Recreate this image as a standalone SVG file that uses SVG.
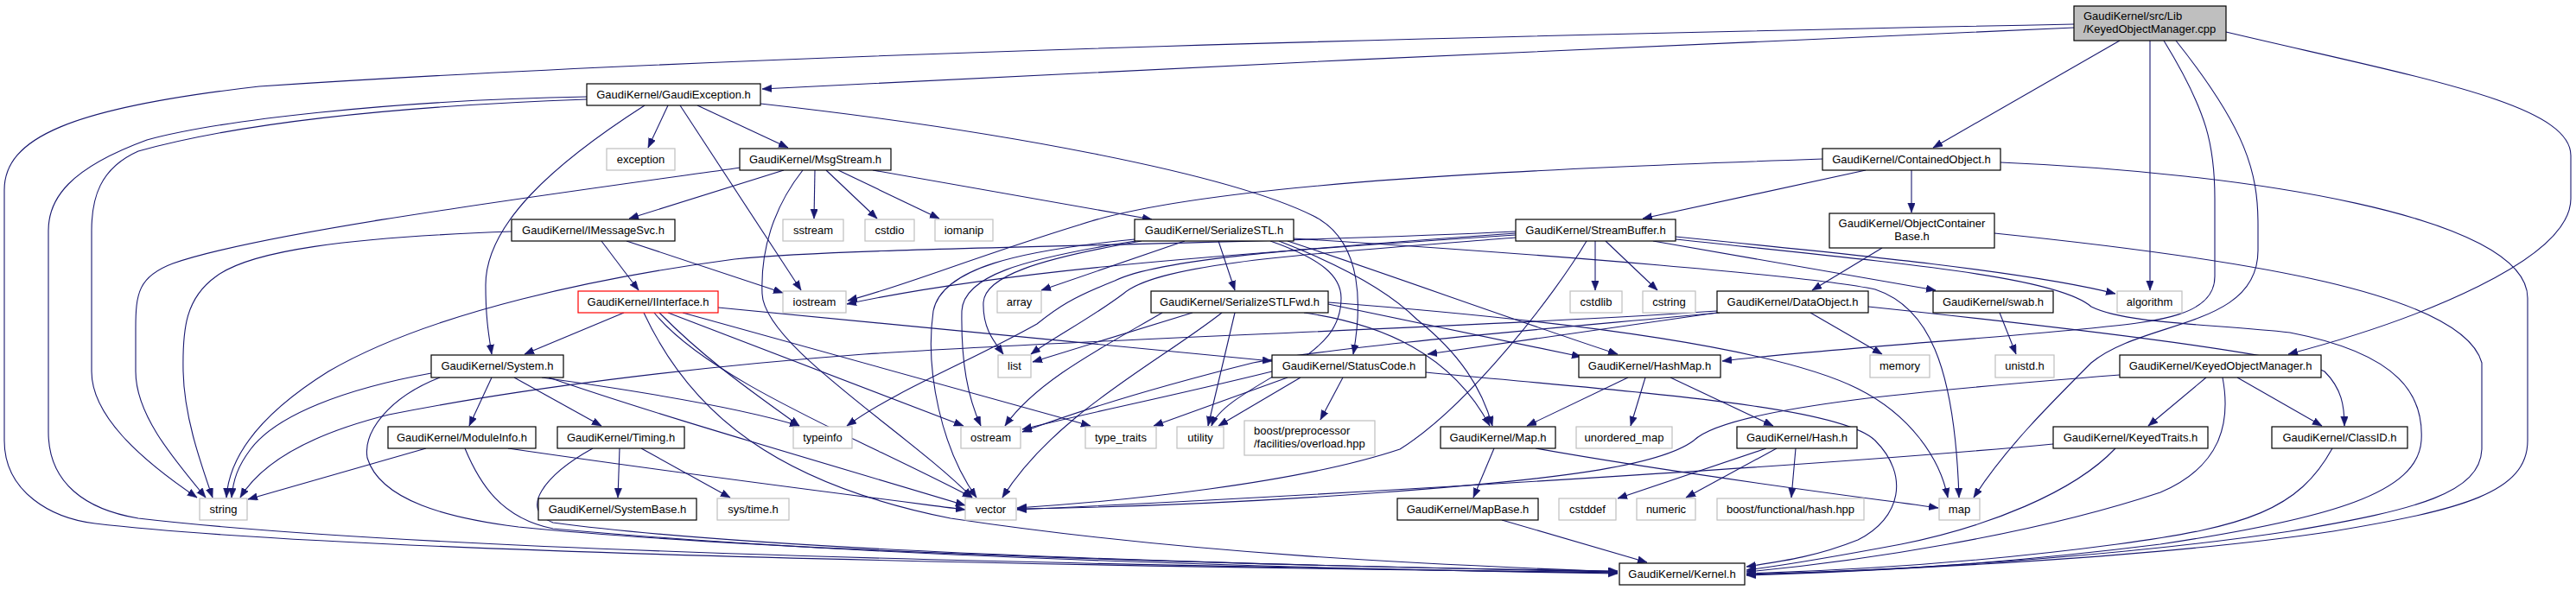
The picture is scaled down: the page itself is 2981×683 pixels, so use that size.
<svg xmlns="http://www.w3.org/2000/svg" width="2981" height="683" viewBox="0 0 2981 683">
<style>
.n rect{fill:#fff;stroke:#000;stroke-width:1.2}
.x rect{fill:#fff;stroke:#bfbfbf;stroke-width:1.2}
.r rect{fill:#fff;stroke:#ff0000;stroke-width:1.2}
.root rect{fill:#bfbfbf;stroke:#000;stroke-width:1.2}
text{font-family:"Liberation Sans",Arial,Helvetica,sans-serif;font-size:13px;fill:#000}
.m{text-anchor:middle}
#edges path{fill:none;stroke:#191970;stroke-width:1.1;marker-end:url(#a)}
</style>
<defs>
<marker id="a" markerWidth="12" markerHeight="9" refX="11" refY="4.25" orient="auto" markerUnits="userSpaceOnUse">
<path d="M0,0 L11,4.25 L0,8.5 z" fill="#191970" stroke="#191970" stroke-width="0.5"/>
</marker>
</defs>
<rect width="2981" height="683" fill="#fff"/>
<g id="edges">
<path d="M2400,32 C2100,45 1300,80 882,103"/>
<path d="M2400,28 C1800,40 900,60 300,100 C80,125 5,160 5,220 L5,510 C5,570 60,600 110,606 C400,640 1200,655 1872,663"/>
<path d="M2453,47 L2237,171"/>
<path d="M2488,47 L2488,336"/>
<path d="M2504,47 C2555,130 2563,170 2563,230 L2563,320 C2563,365 2500,372 2420,380 C2300,392 2100,405 1993,418"/>
<path d="M2518,47 C2600,150 2613,200 2613,260 L2613,290 C2613,380 2480,370 2420,420 C2370,470 2320,520 2284,576"/>
<path d="M2576,37 C2800,90 2975,120 2975,180 L2975,230 C2975,300 2800,370 2648,410"/>
<path d="M773,122 L750,171"/>
<path d="M807,122 L912,171"/>
<path d="M787,122 L927,336"/>
<path d="M746,122 C640,190 562,260 562,330 C562,370 566,390 569,410"/>
<path d="M880,120 C1150,150 1420,200 1520,250 C1580,280 1575,360 1566,410"/>
<path d="M679,115 C400,125 250,150 160,175 C115,195 106,230 106,267 L106,430 C106,480 160,530 228,576"/>
<path d="M679,112 C450,116 250,140 170,162 C80,195 56,230 56,267 L56,500 C56,560 100,590 160,600 C500,640 1300,655 1872,663"/>
<path d="M907,197 L728,253"/>
<path d="M943,197 L942,253"/>
<path d="M956,197 L1015,253"/>
<path d="M970,197 L1087,253"/>
<path d="M1010,197 L1333,254"/>
<path d="M929,197 C895,240 880,290 882,340 C884,400 1050,500 1125,576"/>
<path d="M857,194 C600,230 300,270 200,305 C160,320 157,340 157,380 L157,430 C157,480 200,530 238,576"/>
<path d="M696,279 L739,336"/>
<path d="M725,279 L906,339"/>
<path d="M592,268 C400,275 290,290 250,320 C215,345 211,380 212,430 C213,480 230,530 246,576"/>
<path d="M722,362 L607,410"/>
<path d="M831,356 L1472,418"/>
<path d="M763,362 C820,420 880,460 925,493"/>
<path d="M773,362 L1115,493"/>
<path d="M790,362 L1262,493"/>
<path d="M757,362 C820,440 1000,510 1125,576"/>
<path d="M745,362 C800,480 900,560 1100,600 C1400,645 1700,655 1872,662"/>
<path d="M1410,279 L1429,336"/>
<path d="M1371,279 L1205,336"/>
<path d="M1321,279 C1200,300 1140,320 1138,350 C1137,380 1150,395 1161,410"/>
<path d="M1314,279 C1180,300 1115,320 1113,360 C1112,420 1120,460 1135,493"/>
<path d="M1313,277 C1180,290 1090,310 1080,360 C1070,430 1090,520 1130,576"/>
<path d="M1470,279 C1530,300 1552,320 1552,345 C1552,380 1530,400 1500,420 C1450,450 1410,470 1402,493"/>
<path d="M1497,276 C1800,295 2100,320 2170,335 C2230,355 2262,420 2267,576"/>
<path d="M1490,279 C1600,315 1750,370 1872,410"/>
<path d="M1480,279 C1560,310 1610,340 1640,370 C1690,410 1715,450 1727,493"/>
<path d="M1380,362 L1195,419"/>
<path d="M1345,362 C1280,400 1200,440 1163,493"/>
<path d="M1414,362 C1340,420 1220,480 1160,576"/>
<path d="M1429,362 L1398,493"/>
<path d="M1537,352 L1830,413"/>
<path d="M1509,362 C1600,375 1680,410 1724,493"/>
<path d="M1537,350 C1800,370 2050,400 2150,450 C2210,480 2245,530 2254,576"/>
<path d="M1472,430 C1350,460 1250,480 1183,497"/>
<path d="M1490,437 L1335,493"/>
<path d="M1505,437 L1410,493"/>
<path d="M1554,437 L1528,486"/>
<path d="M1650,431 C1900,455 2130,470 2170,510 C2210,550 2200,600 2150,625 C2100,645 2060,650 2021,656"/>
<path d="M499,432 C400,450 320,480 290,520 C275,540 270,555 268,576"/>
<path d="M627,437 C720,450 850,470 925,493"/>
<path d="M569,437 L543,493"/>
<path d="M595,437 L696,493"/>
<path d="M635,437 C760,480 900,520 1117,585"/>
<path d="M509,437 C450,460 420,500 425,530 C440,580 520,600 600,610 C900,640 1500,655 1872,662"/>
<path d="M493,519 L287,578"/>
<path d="M588,519 C800,550 1000,575 1117,590"/>
<path d="M538,519 C555,560 580,600 640,612 C1000,645 1500,658 1872,664"/>
<path d="M717,519 L715,576"/>
<path d="M742,519 L845,576"/>
<path d="M686,519 C630,550 600,590 640,605 C900,640 1500,656 1872,661"/>
<path d="M2109,184 C1800,195 1400,210 1250,260 C1120,300 1050,330 981,348"/>
<path d="M2159,197 L1901,253"/>
<path d="M2212,197 L2212,246"/>
<path d="M2315,188 C2600,200 2925,250 2925,345 L2925,510 C2925,570 2850,590 2700,615 C2500,645 2200,660 2021,665"/>
<path d="M1754,268 C1400,285 1000,285 850,300 C700,320 500,360 380,430 C300,480 265,530 262,576"/>
<path d="M1754,272 C1400,295 1150,315 980,352"/>
<path d="M1754,275 C1500,295 1340,305 1300,340 C1260,370 1220,390 1193,410"/>
<path d="M1754,270 C1500,288 1340,300 1290,325 C1240,345 1225,355 1200,375 C1120,420 1040,450 980,493"/>
<path d="M1836,279 C1800,340 1700,470 1620,520 C1500,560 1300,580 1177,588"/>
<path d="M1846,279 L1846,336"/>
<path d="M1858,279 L1918,336"/>
<path d="M1939,274 C2150,295 2350,315 2448,340"/>
<path d="M1913,279 L2240,336"/>
<path d="M1939,277 C2200,305 2380,320 2420,355 C2460,375 2560,375 2650,385 C2780,410 2805,460 2802,510 C2798,570 2700,600 2500,630 C2300,655 2150,662 2021,666"/>
<path d="M2178,287 L2097,336"/>
<path d="M2308,270 C2600,300 2850,340 2872,420 L2872,520 C2870,570 2800,590 2650,615 C2450,645 2200,660 2021,665"/>
<path d="M1987,360 C1700,380 1300,390 1000,410 C800,425 600,450 450,480 C350,505 300,540 278,576"/>
<path d="M1990,362 C1800,380 1550,400 1450,420 C1350,445 1250,475 1183,500"/>
<path d="M1987,362 L1652,410"/>
<path d="M2095,362 L2178,410"/>
<path d="M2162,355 C2400,380 2650,410 2690,430 C2710,450 2713,470 2713,493"/>
<path d="M1884,437 L1767,493"/>
<path d="M1904,437 L1887,493"/>
<path d="M1933,437 L2052,493"/>
<path d="M1729,519 L1705,576"/>
<path d="M1777,519 C1950,550 2150,575 2243,588"/>
<path d="M1738,602 L1906,651"/>
<path d="M2044,519 L1872,577"/>
<path d="M2056,519 L1951,576"/>
<path d="M2078,519 L2073,576"/>
<path d="M2314,362 L2333,410"/>
<path d="M2553,437 L2486,493"/>
<path d="M2589,437 L2687,493"/>
<path d="M2453,434 C2250,450 2000,470 1960,510 C1920,540 1800,555 1600,570 C1400,585 1250,588 1177,589"/>
<path d="M2572,437 C2582,490 2570,540 2500,570 C2350,620 2150,650 2021,662"/>
<path d="M2376,514 C2100,540 1500,575 1177,590"/>
<path d="M2448,519 C2400,570 2300,610 2200,630 C2120,645 2060,655 2021,660"/>
<path d="M2699,519 C2660,590 2600,610 2450,630 C2300,650 2150,660 2021,664"/>
</g>
<g id="n_cpp" class="root"><rect x="2400" y="7" width="176" height="40"/><text x="2411" y="23">GaudiKernel/src/Lib</text><text x="2411" y="38">/KeyedObjectManager.cpp</text></g>
<g id="n_gaudiexception" class="n"><rect x="679" y="97" width="201" height="25"/><text class="m" x="779.5" y="114">GaudiKernel/GaudiException.h</text></g>
<g id="n_exception" class="x"><rect x="702" y="172" width="79" height="25"/><text class="m" x="741.5" y="189">exception</text></g>
<g id="n_msgstream" class="n"><rect x="856" y="172" width="175" height="25"/><text class="m" x="943.5" y="189">GaudiKernel/MsgStream.h</text></g>
<g id="n_containedobject" class="n"><rect x="2109" y="172" width="206" height="25"/><text class="m" x="2212" y="189">GaudiKernel/ContainedObject.h</text></g>
<g id="n_imessagesvc" class="n"><rect x="592" y="254" width="189" height="25"/><text class="m" x="686.5" y="271">GaudiKernel/IMessageSvc.h</text></g>
<g id="n_sstream" class="x"><rect x="906" y="254" width="70" height="25"/><text class="m" x="941" y="271">sstream</text></g>
<g id="n_cstdio" class="x"><rect x="1001" y="254" width="57" height="25"/><text class="m" x="1029.5" y="271">cstdio</text></g>
<g id="n_iomanip" class="x"><rect x="1082" y="254" width="67" height="25"/><text class="m" x="1115.5" y="271">iomanip</text></g>
<g id="n_serializestl" class="n"><rect x="1313" y="254" width="184" height="25"/><text class="m" x="1405" y="271">GaudiKernel/SerializeSTL.h</text></g>
<g id="n_streambuffer" class="n"><rect x="1754" y="254" width="185" height="25"/><text class="m" x="1846.5" y="271">GaudiKernel/StreamBuffer.h</text></g>
<g id="n_objectcontainerbase" class="n"><rect x="2117" y="247" width="191" height="40"/><text class="m" x="2212.5" y="263">GaudiKernel/ObjectContainer</text><text class="m" x="2212.5" y="278">Base.h</text></g>
<g id="n_iinterface" class="r"><rect x="669" y="337" width="162" height="25"/><text class="m" x="750" y="354">GaudiKernel/IInterface.h</text></g>
<g id="n_iostream" class="x"><rect x="906" y="337" width="73" height="25"/><text class="m" x="942.5" y="354">iostream</text></g>
<g id="n_array" class="x"><rect x="1154" y="337" width="51" height="25"/><text class="m" x="1179.5" y="354">array</text></g>
<g id="n_serializestlfwd" class="n"><rect x="1332" y="337" width="205" height="25"/><text class="m" x="1434.5" y="354">GaudiKernel/SerializeSTLFwd.h</text></g>
<g id="n_cstdlib" class="x"><rect x="1817" y="337" width="60" height="25"/><text class="m" x="1847" y="354">cstdlib</text></g>
<g id="n_cstring" class="x"><rect x="1901" y="337" width="61" height="25"/><text class="m" x="1931.5" y="354">cstring</text></g>
<g id="n_dataobject" class="n"><rect x="1987" y="337" width="175" height="25"/><text class="m" x="2074.5" y="354">GaudiKernel/DataObject.h</text></g>
<g id="n_swab" class="n"><rect x="2237" y="337" width="139" height="25"/><text class="m" x="2306.5" y="354">GaudiKernel/swab.h</text></g>
<g id="n_algorithm" class="x"><rect x="2450" y="337" width="75" height="25"/><text class="m" x="2487.5" y="354">algorithm</text></g>
<g id="n_system" class="n"><rect x="499" y="411" width="153" height="26"/><text class="m" x="575.5" y="428">GaudiKernel/System.h</text></g>
<g id="n_list" class="x"><rect x="1155" y="411" width="38" height="26"/><text class="m" x="1174" y="428">list</text></g>
<g id="n_statuscode" class="n"><rect x="1472" y="411" width="178" height="26"/><text class="m" x="1561" y="428">GaudiKernel/StatusCode.h</text></g>
<g id="n_hashmap" class="n"><rect x="1827" y="411" width="164" height="26"/><text class="m" x="1909" y="428">GaudiKernel/HashMap.h</text></g>
<g id="n_memory" class="x"><rect x="2164" y="411" width="69" height="26"/><text class="m" x="2198.5" y="428">memory</text></g>
<g id="n_unistd" class="x"><rect x="2309" y="411" width="68" height="26"/><text class="m" x="2343" y="428">unistd.h</text></g>
<g id="n_keyedobjectmanager" class="n"><rect x="2453" y="411" width="233" height="26"/><text class="m" x="2569.5" y="428">GaudiKernel/KeyedObjectManager.h</text></g>
<g id="n_moduleinfo" class="n"><rect x="449" y="494" width="171" height="25"/><text class="m" x="534.5" y="511">GaudiKernel/ModuleInfo.h</text></g>
<g id="n_timing" class="n"><rect x="645" y="494" width="147" height="25"/><text class="m" x="718.5" y="511">GaudiKernel/Timing.h</text></g>
<g id="n_typeinfo" class="x"><rect x="918" y="494" width="68" height="25"/><text class="m" x="952" y="511">typeinfo</text></g>
<g id="n_ostream" class="x"><rect x="1112" y="494" width="69" height="25"/><text class="m" x="1146.5" y="511">ostream</text></g>
<g id="n_type_traits" class="x"><rect x="1256" y="494" width="82" height="25"/><text class="m" x="1297" y="511">type_traits</text></g>
<g id="n_utility" class="x"><rect x="1362" y="494" width="54" height="25"/><text class="m" x="1389" y="511">utility</text></g>
<g id="n_boost_pp" class="x"><rect x="1440" y="487" width="151" height="40"/><text x="1451" y="503">boost/preprocessor</text><text x="1451" y="518">/facilities/overload.hpp</text></g>
<g id="n_map_h" class="n"><rect x="1667" y="494" width="133" height="25"/><text class="m" x="1733.5" y="511">GaudiKernel/Map.h</text></g>
<g id="n_unordered_map" class="x"><rect x="1824" y="494" width="111" height="25"/><text class="m" x="1879.5" y="511">unordered_map</text></g>
<g id="n_hash" class="n"><rect x="2010" y="494" width="139" height="25"/><text class="m" x="2079.5" y="511">GaudiKernel/Hash.h</text></g>
<g id="n_keyedtraits" class="n"><rect x="2376" y="494" width="179" height="25"/><text class="m" x="2465.5" y="511">GaudiKernel/KeyedTraits.h</text></g>
<g id="n_classid" class="n"><rect x="2629" y="494" width="157" height="25"/><text class="m" x="2707.5" y="511">GaudiKernel/ClassID.h</text></g>
<g id="n_string" class="x"><rect x="231" y="577" width="55" height="25"/><text class="m" x="258.5" y="594">string</text></g>
<g id="n_systembase" class="n"><rect x="623" y="577" width="183" height="25"/><text class="m" x="714.5" y="594">GaudiKernel/SystemBase.h</text></g>
<g id="n_systime" class="x"><rect x="830" y="577" width="83" height="25"/><text class="m" x="871.5" y="594">sys/time.h</text></g>
<g id="n_vector" class="x"><rect x="1117" y="577" width="59" height="25"/><text class="m" x="1146.5" y="594">vector</text></g>
<g id="n_mapbase" class="n"><rect x="1617" y="577" width="163" height="25"/><text class="m" x="1698.5" y="594">GaudiKernel/MapBase.h</text></g>
<g id="n_cstddef" class="x"><rect x="1804" y="577" width="66" height="25"/><text class="m" x="1837" y="594">cstddef</text></g>
<g id="n_numeric" class="x"><rect x="1894" y="577" width="68" height="25"/><text class="m" x="1928" y="594">numeric</text></g>
<g id="n_boost_hash" class="x"><rect x="1987" y="577" width="170" height="25"/><text class="m" x="2072" y="594">boost/functional/hash.hpp</text></g>
<g id="n_map" class="x"><rect x="2244" y="577" width="47" height="25"/><text class="m" x="2267.5" y="594">map</text></g>
<g id="n_kernel" class="n"><rect x="1874" y="652" width="145" height="25"/><text class="m" x="1946.5" y="669">GaudiKernel/Kernel.h</text></g>
</svg>
